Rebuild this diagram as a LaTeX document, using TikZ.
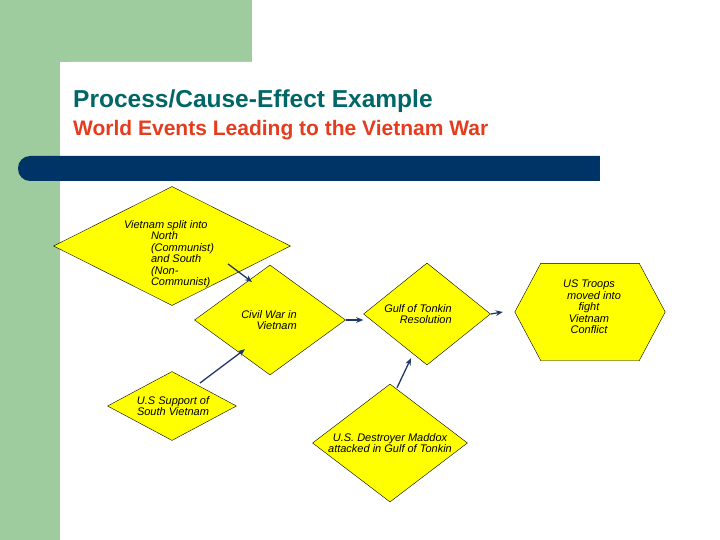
\documentclass[tikz,border=0pt]{standalone}
\usepackage{fontspec}
\setmainfont{Liberation Sans}
\usetikzlibrary{arrows.meta,positioning,calc,shapes.geometric}
\definecolor{slidegreen}{HTML}{9ECC9E}
\definecolor{slidenavy}{HTML}{003366}
\definecolor{titleteal}{HTML}{006666}
\definecolor{subred}{HTML}{E63C1E}
\definecolor{boxyellow}{HTML}{FFFF00}
\definecolor{arrnavy}{HTML}{1F3864}
\begin{document}
\begin{tikzpicture}[x=1pt,y=-1pt,
  dia/.style={diamond, draw=black, fill=boxyellow, inner sep=0pt, line width=0.4pt},
  txt/.style={font=\fontsize{11}{11.5}\selectfont\itshape, inner sep=0pt},
  arr/.style={-{Stealth[length=2.5mm,width=2mm]}, draw=arrnavy, line width=1.3pt}
]
  \useasboundingbox (0,0) rectangle (720,540);
  % background
  \fill[white] (0,0) rectangle (720,540);
  \fill[slidegreen] (0,0) rectangle (252,62);
  \fill[slidegreen] (0,0) rectangle (60,540);
  \fill[white, rounded corners=10pt] (60,62) rectangle (730,550);
  \fill[slidenavy, rounded corners=12pt] (18,156) rectangle (640,181);
  \fill[white] (600,150) rectangle (720,190);

  \node[anchor=base west, font=\bfseries\fontsize{24.5}{28}\selectfont, text=titleteal, inner sep=0pt] (title)
    at (73,108) {Process/Cause-Effect Example};
  \node[anchor=base west, font=\bfseries\fontsize{21}{24}\selectfont, text=subred, inner sep=0pt] (subtitle)
    at (73,136) {World Events Leading to the Vietnam War};

  % shapes
  \node[dia, minimum width=237pt, minimum height=119pt] (split) at (172,246) {};
  \node[dia, minimum width=151pt, minimum height=110pt] (civil) at (270,320) {};
  \node[dia, minimum width=127pt, minimum height=102pt] (gulf) at (427,314) {};
  \node[dia, minimum width=129pt, minimum height=69pt] (support) at (172,406) {};
  \node[dia, minimum width=155pt, minimum height=118pt] (maddox) at (390,443) {};
  \node[minimum width=150pt, minimum height=97pt, inner sep=0pt] (troops) at (590,312) {};
  \draw[fill=boxyellow] (troops.west) -- ([xshift=26]troops.north west) -- ([xshift=-26]troops.north east)
    -- (troops.east) -- ([xshift=-26]troops.south east) -- ([xshift=26]troops.south west) -- cycle;

  % labels
  \node[txt, align=left] (splittext) at (169,254)
    {Vietnam split into\\\hspace*{27pt}North\\\hspace*{27pt}(Communist)\\\hspace*{27pt}and South\\\hspace*{27pt}(Non-\\\hspace*{27pt}Communist)};
  \node[txt, align=right] (civiltext) at (269,320) {Civil War in\\Vietnam};
  \node[txt, align=right] (gulftext) at (418,314) {Gulf of Tonkin\\Resolution};
  \node[txt, align=center] (troopstext) at (589,307) {US Troops\\\hspace*{10pt}moved into\\fight\\Vietnam\\Conflict};
  \node[txt, align=center] (supporttext) at (173,406) {U.S Support of\\South Vietnam};
  \node[txt, align=center] (maddoxtext) at (390,443) {U.S. Destroyer Maddox\\attacked in Gulf of Tonkin};

  % arrows
  \draw[arr] ([shift={(56,18)}]split.center) -- ([shift={(-18,-38)}]civil.center);
  \draw[arr] ([shift={(28,-23)}]support.center) -- ([shift={(-25,-26)}]civil.south);
  \draw[arr] (civil.east) -- (civil.east -| gulf.west);
  \draw[arr] (gulf.east) -- ([xshift=-12]troops.west);
  \draw[arr] ([shift={(7,4)}]maddox.north) -- ([shift={(-16,-7)}]gulf.south);
\end{tikzpicture}
\end{document}
